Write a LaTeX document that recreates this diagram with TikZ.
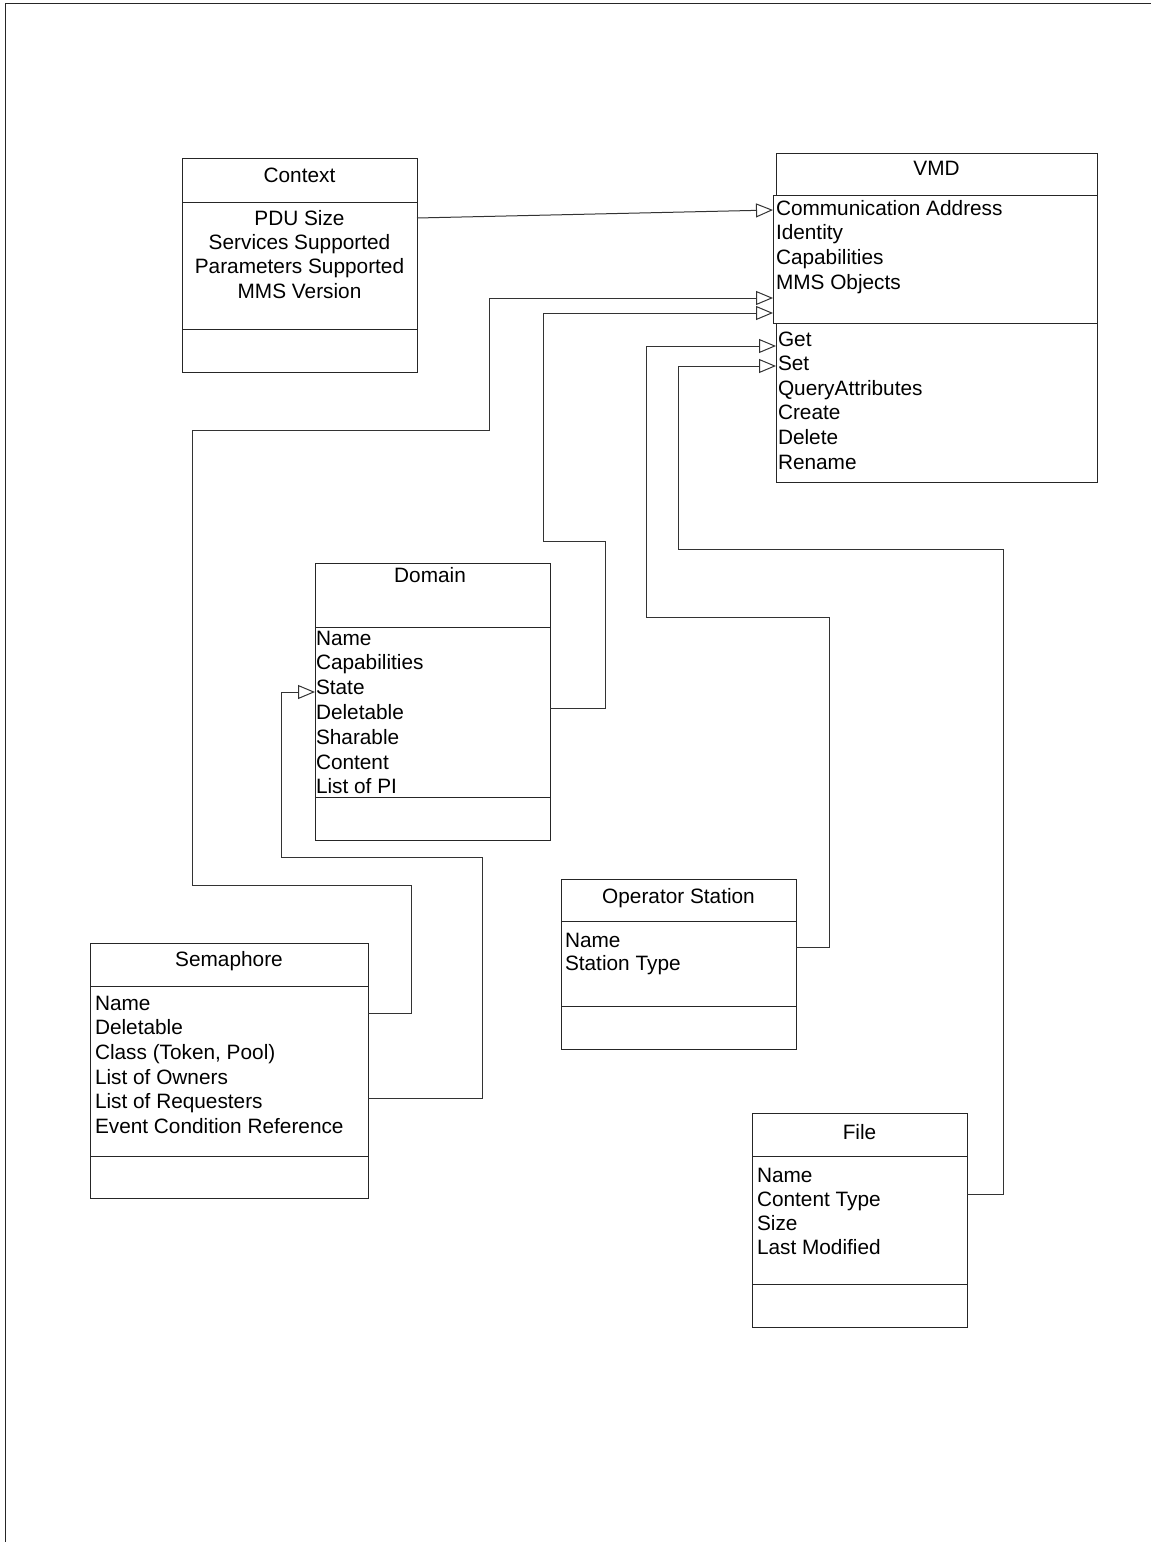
\documentclass[tikz,border=0pt]{standalone}
\usepackage{fontspec}
\setmainfont{Liberation Sans}
\usetikzlibrary{arrows.meta}
\newcommand\fs{\fontsize{20.8}{24.6}\selectfont}
\newcommand\rowsL[5]{\foreach \t [count=\i] in {#5} \node[txt, anchor=base west] (#1-\i) at (#2, {#3+#4*(\i-1)}) {\t};}
\newcommand\rowsC[5]{\foreach \t [count=\i] in {#5} \node[txt, anchor=base] (#1-\i) at (#2, {#3+#4*(\i-1)}) {\t};}
\begin{document}
\begin{tikzpicture}[x=1pt,y=-1pt,
  ln/.style={draw=black!85,line width=1pt},
  cls/.style={ln, inner sep=0pt, outer sep=0pt, anchor=north west},
  txt/.style={inner sep=0pt, outer sep=0pt, font=\fs, text=black},
  conn/.style={draw=black!80, line width=1pt},
  arr/.style={conn, -{Triangle[length=17pt,width=14pt,fill=white]}}
]
\useasboundingbox (0,0) rectangle (1151,1542);
% page frame
\coordinate (fb) at (5,1542);
\coordinate (fc) at (5,3);
\coordinate (fr) at (1151,3);
\draw[ln] (fb) -- (fc) -- (fr);

% ---------- Context ----------
\node[cls, minimum width=235pt, minimum height=214pt] (ctx) at (182,158) {};
\draw[ln] (ctx.west |- 0,202) -- (ctx.east |- 0,202);
\draw[ln] (ctx.west |- 0,329) -- (ctx.east |- 0,329);
\node[txt, anchor=base] (ctxT) at (299.5,182) {Context};
\rowsC{ctxA}{299.5}{225}{24.4}{PDU Size, Services Supported, Parameters Supported, MMS Version}

% ---------- VMD ----------
\node[cls, minimum width=321pt, minimum height=42pt] (vmdH) at (776,153) {};
\node[cls, minimum width=324pt, minimum height=128pt] (vmdA) at (773,195) {};
\node[cls, minimum width=321pt, minimum height=159pt] (vmdO) at (776,323) {};
\node[txt, anchor=base] (vmdT) at (936.5,175) {VMD};
\rowsL{vmdAt}{776}{215}{24.7}{Communication Address, Identity, Capabilities, MMS Objects}
\rowsL{vmdOp}{778}{346}{24.6}{Get, Set, QueryAttributes, Create, Delete, Rename}

% ---------- Domain ----------
\node[cls, minimum width=235pt, minimum height=277pt] (dom) at (315,563) {};
\draw[ln] (dom.west |- 0,627) -- (dom.east |- 0,627);
\draw[ln] (dom.west |- 0,797) -- (dom.east |- 0,797);
\node[txt, anchor=base] (domT) at (430,582) {Domain};
\rowsL{domA}{316}{645}{24.8}{Name, Capabilities, State, Deletable, Sharable, Content, List of PI}

% ---------- Operator Station ----------
\node[cls, minimum width=235pt, minimum height=170pt] (ops) at (561,879) {};
\draw[ln] (ops.west |- 0,921) -- (ops.east |- 0,921);
\draw[ln] (ops.west |- 0,1006) -- (ops.east |- 0,1006);
\node[txt, anchor=base] (opsT) at (678.5,903) {Operator Station};
\rowsL{opsA}{565}{947}{23.5}{Name, Station Type}

% ---------- Semaphore ----------
\node[cls, minimum width=278pt, minimum height=255pt] (sem) at (90,943) {};
\draw[ln] (sem.west |- 0,986) -- (sem.east |- 0,986);
\draw[ln] (sem.west |- 0,1156) -- (sem.east |- 0,1156);
\node[txt, anchor=base] (semT) at (229,966) {Semaphore};
\rowsL{semA}{95}{1010}{24.7}{Name, Deletable, {Class (Token, Pool)}, List of Owners, List of Requesters, Event Condition Reference}

% ---------- File ----------
\node[cls, minimum width=215pt, minimum height=214pt] (fil) at (752,1113) {};
\draw[ln] (fil.west |- 0,1156) -- (fil.east |- 0,1156);
\draw[ln] (fil.west |- 0,1284) -- (fil.east |- 0,1284);
\node[txt, anchor=base] (filT) at (859.5,1139) {File};
\rowsL{filA}{757}{1182}{24.2}{Name, Content Type, Size, Last Modified}

% ---------- connectors ----------
\draw[arr] (ctx.east |- 0,218) -- (vmdA.west |- 0,210);
\draw[arr] (sem.east |- 0,1013) -- (411,1013) -- (411,885) -- (192,885) -- (192,430) -- (489,430) -- (489,298) -- (vmdA.west |- 0,298);
\draw[arr] (dom.east |- 0,708) -- (605,708) -- (605,541) -- (543,541) -- (543,313) -- (vmdA.west |- 0,313);
\draw[arr] (ops.east |- 0,947) -- (829,947) -- (829,617) -- (646,617) -- (646,346) -- (vmdO.west |- 0,346);
\draw[arr] (fil.east |- 0,1194) -- (1003,1194) -- (1003,549) -- (678,549) -- (678,366) -- (vmdO.west |- 0,366);
\draw[arr] (sem.east |- 0,1098) -- (482,1098) -- (482,857) -- (281,857) -- (281,692) -- (dom.west |- 0,692);
\end{tikzpicture}
\end{document}
